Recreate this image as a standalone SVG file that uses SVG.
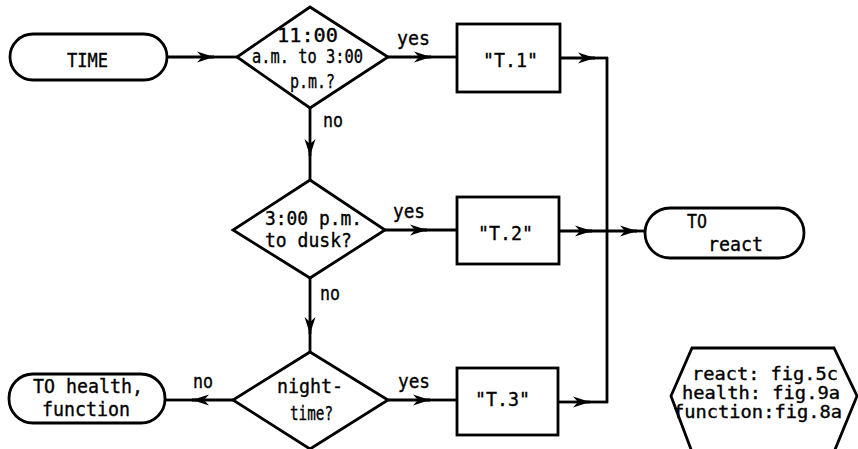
<svg xmlns="http://www.w3.org/2000/svg" width="858" height="449" viewBox="0 0 858 449">
<style>
.s{fill:none;stroke:#000;stroke-width:2.8;stroke-linejoin:miter}
.b{fill:#fff;stroke:#000;stroke-width:2.8}
text{font-family:"DejaVu Sans Mono","Liberation Mono",monospace;font-size:19px;fill:#000;stroke:#000;stroke-width:0.35}
.sm{font-size:17px}
.ar{fill:none;stroke:#000;stroke-width:2.8;marker-end:url(#ah)}
</style>
<defs>
<marker id="ah" markerUnits="userSpaceOnUse" markerWidth="18" markerHeight="12" refX="17" refY="6" orient="auto">
<path d="M0,0.5 L17,6 L0,11.5 L5,6 Z" fill="#000"/>
</marker>
</defs>
<rect width="858" height="449" fill="#fff"/>
<g id="connectors">
<line class="ar" x1="167" y1="57" x2="214" y2="57"/><line class="s" x1="210" y1="57" x2="237" y2="57"/>
<line class="ar" x1="388" y1="57" x2="431" y2="57"/><line class="s" x1="426" y1="57" x2="457" y2="57"/>
<line class="ar" x1="560" y1="58" x2="595" y2="58"/><line class="s" x1="590" y1="58" x2="608" y2="58"/>
<line class="s" x1="607" y1="57" x2="607" y2="403"/>
<line class="ar" x1="310" y1="108" x2="310" y2="156"/><line class="s" x1="310" y1="151" x2="310" y2="180"/>
<line class="ar" x1="385" y1="230" x2="427" y2="230"/><line class="s" x1="422" y1="230" x2="457" y2="230"/>
<line class="ar" x1="559" y1="231" x2="592" y2="231"/><line class="ar" x1="587" y1="231" x2="637" y2="231"/><line class="s" x1="632" y1="231" x2="645" y2="231"/>
<line class="ar" x1="310" y1="278" x2="310" y2="334"/><line class="s" x1="310" y1="329" x2="310" y2="352"/>
<line class="ar" x1="233" y1="400" x2="192" y2="400"/><line class="s" x1="197" y1="400" x2="165" y2="400"/>
<line class="ar" x1="388" y1="400" x2="430" y2="400"/><line class="s" x1="425" y1="400" x2="457" y2="400"/>
<line class="ar" x1="558" y1="402" x2="590" y2="402"/><line class="s" x1="585" y1="402" x2="608" y2="402"/>
<text x="397" y="45" textLength="33" lengthAdjust="spacingAndGlyphs">yes</text>
<text x="323" y="127" textLength="20" lengthAdjust="spacingAndGlyphs">no</text>
<text x="393" y="218" textLength="32" lengthAdjust="spacingAndGlyphs">yes</text>
<text x="320" y="300" textLength="20" lengthAdjust="spacingAndGlyphs">no</text>
<text x="193" y="388" textLength="20" lengthAdjust="spacingAndGlyphs">no</text>
<text x="398" y="388" textLength="32" lengthAdjust="spacingAndGlyphs">yes</text>
</g>
<g id="time">
<rect class="b" x="10" y="34" width="157" height="46" rx="23"/>
<text x="67" y="67" textLength="41" lengthAdjust="spacingAndGlyphs">TIME</text>
</g>
<g id="d1">
<polygon class="b" points="310,7 388,57 310,108 237,57"/>
<text x="277" y="42" textLength="61" lengthAdjust="spacingAndGlyphs">11:00</text>
<text x="252" y="63" textLength="111" lengthAdjust="spacingAndGlyphs">a.m. to 3:00</text>
<text x="290" y="88" textLength="45" lengthAdjust="spacingAndGlyphs">p.m.?</text>
</g>
<g id="t1">
<rect class="b" x="457" y="24" width="103" height="68"/>
<text x="483" y="67" textLength="55" lengthAdjust="spacingAndGlyphs">"T.1"</text>
</g>
<g id="d2">
<polygon class="b" points="310,180 385,230 310,278 233,230"/>
<text x="265" y="225" textLength="97" lengthAdjust="spacingAndGlyphs">3:00 p.m.</text>
<text x="265" y="247" textLength="87" lengthAdjust="spacingAndGlyphs">to dusk?</text>
</g>
<g id="t2">
<rect class="b" x="457" y="197" width="102" height="67"/>
<text x="478" y="240" textLength="55" lengthAdjust="spacingAndGlyphs">"T.2"</text>
</g>
<g id="toreact">
<rect class="b" x="645" y="208" width="159" height="50" rx="25"/>
<text x="687" y="228" textLength="20" lengthAdjust="spacingAndGlyphs">TO</text>
<text x="708" y="251" textLength="55" lengthAdjust="spacingAndGlyphs">react</text>
</g>
<g id="d3">
<polygon class="b" points="310,352 388,400 310,449 233,400"/>
<text x="277" y="393" textLength="66" lengthAdjust="spacingAndGlyphs">night-</text>
<text x="290" y="420" textLength="43" lengthAdjust="spacingAndGlyphs">time?</text>
</g>
<g id="t3">
<rect class="b" x="457" y="368" width="101" height="67"/>
<text x="475" y="406" textLength="55" lengthAdjust="spacingAndGlyphs">"T.3"</text>
</g>
<g id="tohealth">
<rect class="b" x="9" y="374" width="156" height="49" rx="24"/>
<text x="33" y="393" textLength="110" lengthAdjust="spacingAndGlyphs">TO health,</text>
<text x="42" y="416" textLength="88" lengthAdjust="spacingAndGlyphs">function</text>
</g>
<g id="legend">
<polygon class="b" points="692,348 834,348 857,396 834,452 692,452 671,396"/>
<text class="sm" x="692" y="380" textLength="146" lengthAdjust="spacingAndGlyphs">react: fig.5c</text>
<text class="sm" x="682" y="399" textLength="158" lengthAdjust="spacingAndGlyphs">health: fig.9a</text>
<text class="sm" x="673" y="418" textLength="169" lengthAdjust="spacingAndGlyphs">function:fig.8a</text>
</g>
</svg>
